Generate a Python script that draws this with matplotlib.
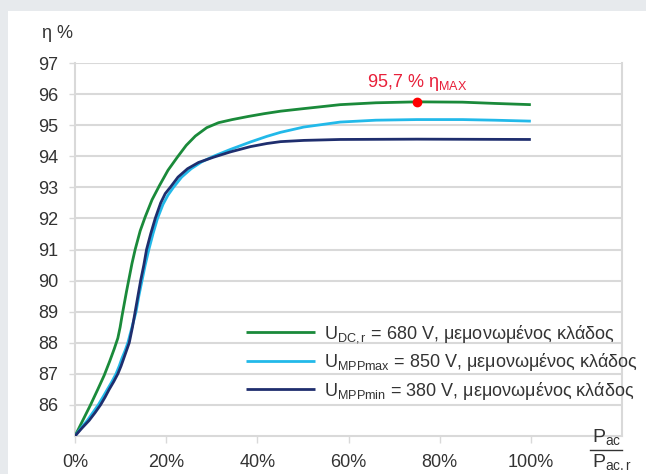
import matplotlib
matplotlib.use('Agg')
import matplotlib.pyplot as plt
from matplotlib.patches import Rectangle
from matplotlib.lines import Line2D

plt.rcParams['font.family'] = ['Liberation Sans', 'DejaVu Sans']
plt.rcParams['mathtext.fontset'] = 'custom'
plt.rcParams['mathtext.rm'] = 'Liberation Sans'
plt.rcParams['mathtext.it'] = 'Liberation Sans'

# load P_ac / P_ac,r in %, efficiency in %
x_dc = [0, 1.7, 3.4, 5.0, 6.4, 7.6, 8.6, 9.4, 9.9, 10.3, 10.8, 11.3, 11.9, 12.5, 13.2,
        14.3, 15.4, 16.9, 18.5, 20.4, 22.5, 24.4, 26.4, 28.9, 31.5, 34.5, 38, 41.5, 45.1,
        50, 53.8, 58.2, 66, 75, 85, 92, 100]
y_dc = [85, 85.5, 86, 86.5, 86.95, 87.4, 87.8, 88.15, 88.5, 88.85, 89.25, 89.65, 90.1,
        90.55, 91, 91.6, 92.05, 92.6, 93.05, 93.55, 93.98, 94.35, 94.65, 94.92, 95.08,
        95.18, 95.28, 95.37, 95.45, 95.53, 95.59, 95.66, 95.72, 95.75, 95.74, 95.70, 95.66]

x_max = [0, 1.3, 2.7, 3.9, 5.1, 6.2, 7.1, 8.1, 9.0, 9.7, 10.3, 11.0, 11.6, 12.5, 13.4,
         14.0, 14.7, 15.4, 16.2, 17.1, 18.1, 19.3, 20.4, 21.6, 23.4, 25.5, 27.8, 30.4, 34.1,
         38.5, 42.1, 45.1, 50.2, 58.2, 66, 75, 85, 92, 100]
y_max = [85, 85.25, 85.5, 85.75, 86, 86.27, 86.5, 86.75, 87, 87.25, 87.5, 87.75, 88, 88.5,
         89, 89.5, 90, 90.5, 91, 91.5, 92, 92.45, 92.75, 93.0, 93.33, 93.6, 93.82, 94.0,
         94.22, 94.46, 94.64, 94.77, 94.94, 95.10, 95.16, 95.18, 95.18, 95.16, 95.13]

x_min = [0, 1.5, 3.1, 4.4, 5.6, 6.6, 7.5, 8.5, 9.4, 10.1, 10.7, 11.3, 11.9, 12.6, 13.2,
         13.8, 14.4, 15.1, 15.7, 16.6, 17.6, 18.8, 19.8, 20.9, 22.6, 24.7, 27.1, 30.4, 34.1,
         38.5, 42.1, 45.1, 50.2, 58.2, 75, 100]
y_min = [85, 85.25, 85.5, 85.75, 86, 86.25, 86.5, 86.75, 87, 87.25, 87.5, 87.75, 88, 88.5,
         89, 89.5, 90, 90.5, 91, 91.5, 92, 92.5, 92.8, 93.0, 93.33, 93.6, 93.8, 93.97, 94.14,
         94.31, 94.41, 94.47, 94.51, 94.54, 94.55, 94.54]

peak_x, peak_y = 75, 95.75

labels = [r'$\mathrm{U_{DC,r}}$ = 680 V, μεμονωμένος κλάδος',
          r'$\mathrm{U_{MPPmax}}$ = 850 V, μεμονωμένος κλάδος',
          r'$\mathrm{U_{MPPmin}}$ = 380 V, μεμονωμένος κλάδος']
colors = ['#1a8a3a', '#22b9e9', '#1f2e6e']

xticks = [0, 20, 40, 60, 80, 100]
xticklabels = ['0%', '20%', '40%', '60%', '80%', '100%']
yticks = list(range(86, 98))

W, H = 646, 474
fig = plt.figure(figsize=(W / 100, H / 100), dpi=100)
fig.patch.set_facecolor('#e7eaed')
fig.patches.append(Rectangle((8 / W, 0), 1, 1 - 11 / H, transform=fig.transFigure,
                             facecolor='white', edgecolor='none', zorder=-1))

ax = fig.add_axes([75 / W, 1 - 436 / H, (622 - 75) / W, (436 - 63) / H])
ax.set_facecolor('white')

grid_c = '#d9d9d9'
text_c = '#333333'

for xs, ys, lab, c in zip([x_dc, x_max, x_min], [y_dc, y_max, y_min], labels, colors):
    ax.plot(xs, ys, color=c, lw=2, label=lab, solid_capstyle='butt',
            solid_joinstyle='round', zorder=3)

ax.plot([peak_x], [peak_y], 'o', color='#ff0000', ms=6, zorder=4)
ax.text(peak_x, peak_y + 0.3, r'95,7 % $\mathrm{η_{MAX}}$', color='#e8203a',
        fontsize=13, ha='center', va='bottom')

ax.set_xlim(0, 120)
ax.set_ylim(85, 97)
ax.set_xticks(xticks)
ax.set_xticklabels(xticklabels)
ax.set_yticks(yticks)
ax.yaxis.grid(True, color=grid_c, lw=1.5)
ax.set_axisbelow(True)
ax.tick_params(axis='both', colors=grid_c, labelcolor=text_c, labelsize=13, width=1)
ax.tick_params(axis='x', length=5, pad=8)
ax.tick_params(axis='y', length=4, pad=8)
for s in ['left', 'bottom', 'right']:
    ax.spines[s].set_color(grid_c)
    ax.spines[s].set_linewidth(1.5)
ax.spines['top'].set_visible(False)

leg = ax.legend(loc='upper left', bbox_to_anchor=(246 / W, 1 - 323 / H),
                bbox_transform=fig.transFigure, frameon=False, fontsize=13,
                handlelength=3.8, handletextpad=0.5, labelspacing=0.35,
                borderaxespad=0, borderpad=0)
for t in leg.get_texts():
    t.set_color(text_c)

fig.text(42 / W, 1 - 33 / H, 'η %', fontsize=13, color=text_c, ha='left', va='center')

# x axis label as a fraction
fig.text(592 / W, 1 - 437 / H, r'$\mathrm{P_{ac}}$', fontsize=14, color=text_c,
         ha='left', va='center')
fig.text(592 / W, 1 - 462 / H, r'$\mathrm{P_{ac.r}}$', fontsize=14, color=text_c,
         ha='left', va='center')
fig.lines.append(Line2D([590 / W, 622 / W], [1 - 450 / H, 1 - 450 / H],
                        transform=fig.transFigure, color=text_c, lw=1))

fig.savefig('out.png', dpi=100, facecolor=fig.get_facecolor())
